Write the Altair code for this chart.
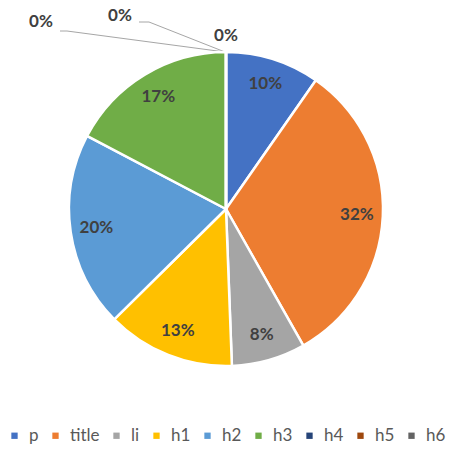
import altair as alt
import pandas as pd

categories = ["p", "title", "li", "h1", "h2", "h3", "h4", "h5", "h6"]
values = [9.7, 32.1, 7.6, 13.2, 20.1, 17.3, 0.0, 0.0, 0.0]
colors = ["#4472C4", "#ED7D31", "#A5A5A5", "#FFC000", "#5B9BD5",
          "#70AD47", "#264478", "#9E480E", "#636363"]

df = pd.DataFrame({"cat": categories, "val": values, "idx": list(range(len(categories)))})
df["label"] = [f"{round(v):d}%" for v in values]

# annotations for the zero-valued slices (labels placed outside with leader lines)
zero_labels = pd.DataFrame({"t": ["0%", "0%", "0%"], "x": [41, 120, 226], "y": [22, 16, 36]})
leaders = pd.DataFrame({
    "x": [60, 67, 139, 149], "y": [31, 31, 22, 22],
    "x2": [67, 225, 149, 225], "y2": [31, 52, 22, 52],
})

CX, CY, R = 226, 209, 157

color = alt.Color(
    "cat:N",
    scale=alt.Scale(domain=categories, range=colors),
    sort=categories,
    legend=alt.Legend(
        title=None, orient="none", legendX=6, legendY=427, direction="horizontal",
        columns=9, symbolType="square", symbolSize=40, symbolStrokeWidth=0,
        labelFontSize=17, labelColor="#595959", labelFont="Lato",
        columnPadding=8, labelOffset=6,
    ),
)

base = alt.Chart(df).encode(
    theta=alt.Theta("val:Q", stack=True),
    order=alt.Order("idx:Q"),
)

arcs = base.mark_arc(outerRadius=R, stroke="white", strokeWidth=2.5).encode(
    color=color, x=alt.value(CX), y=alt.value(CY)
)

texts = base.transform_filter("datum.val > 0").mark_text(
    radius=131, fontSize=17, fontWeight="bold", font="Lato", color="#404040"
).encode(text="label:N", x=alt.value(CX), y=alt.value(CY))

zero_text = alt.Chart(zero_labels).mark_text(
    fontSize=17, fontWeight="bold", font="Lato", color="#404040"
).encode(x=alt.X("x:Q", scale=None), y=alt.Y("y:Q", scale=None), text="t:N")

lines = alt.Chart(leaders).mark_rule(color="#A6A6A6", strokeWidth=1).encode(
    x=alt.X("x:Q", scale=None), y=alt.Y("y:Q", scale=None),
    x2="x2:Q", y2="y2:Q",
)

chart = alt.layer(lines, arcs, texts, zero_text).properties(
    width=453, height=450, autosize=alt.AutoSizeParams(type="none"), padding=0
).configure_view(stroke=None)

chart.save("out.html", embed_options={"renderer": "svg", "actions": False})
